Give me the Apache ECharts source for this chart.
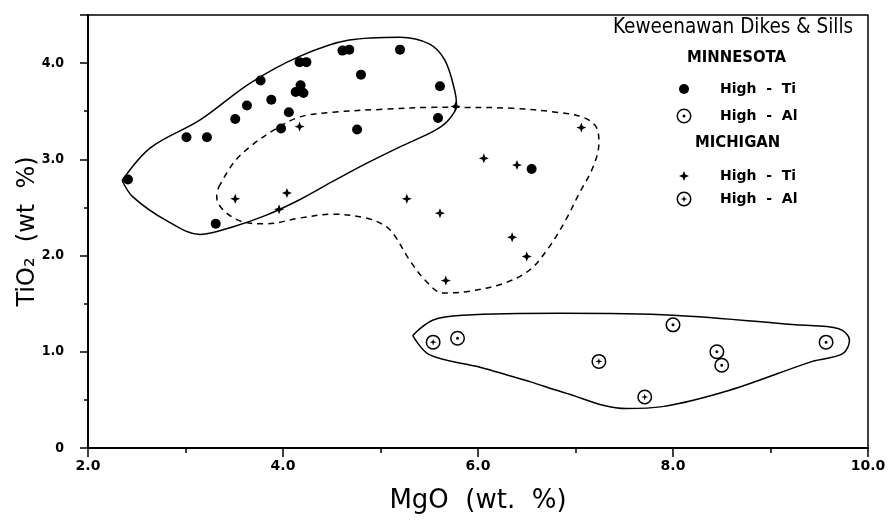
<!DOCTYPE html>
<html>
<head>
<meta charset="utf-8">
<script src="https://cdn.jsdelivr.net/npm/echarts@6/dist/echarts.min.js"></script>
<style>
  html, body { margin: 0; padding: 0; background: #fff; }
  #chart { width: 895px; height: 524px; }
</style>
</head>
<body>
<div id="chart"></div>
<script>
// ---- Data (MgO wt.%, TiO2 wt.%) ----
const mnHighTi = [
  [2.41, 2.79], [3.01, 3.23], [3.22, 3.23], [3.51, 3.42], [3.63, 3.56],
  [3.77, 3.82], [3.88, 3.62], [4.06, 3.49], [3.98, 3.32], [3.31, 2.33],
  [4.18, 3.77], [4.13, 3.70], [4.21, 3.69], [4.17, 4.01], [4.24, 4.01],
  [4.61, 4.13], [4.68, 4.14], [4.80, 3.88], [4.76, 3.31], [5.20, 4.14],
  [5.61, 3.76], [5.59, 3.43], [6.55, 2.90]
];
const mnHighAl = [
  [5.79, 1.14], [8.00, 1.28], [8.45, 1.00], [8.50, 0.86], [9.57, 1.10]
];
const miHighTi = [
  [4.17, 3.34], [3.51, 2.59], [4.04, 2.65], [3.96, 2.48], [6.06, 3.01],
  [5.27, 2.59], [5.61, 2.44], [5.77, 3.55], [7.06, 3.33], [6.40, 2.94],
  [6.35, 2.19], [6.50, 1.99], [5.67, 1.74]
];
const miHighAl = [
  [5.54, 1.10], [7.24, 0.90], [7.71, 0.53]
];

// Field outlines (data units)
const outlineMnHighTi = [
  [2.35, 2.78], [2.64, 3.12], [3.15, 3.41], [3.66, 3.79], [4.17, 4.07],
  [4.68, 4.24], [5.20, 4.27], [5.50, 4.20], [5.66, 4.03], [5.76, 3.72],
  [5.78, 3.56], [5.68, 3.39], [5.54, 3.29], [5.20, 3.13], [4.86, 2.96],
  [4.51, 2.77], [4.17, 2.58], [3.83, 2.42], [3.49, 2.30], [3.15, 2.22],
  [2.81, 2.36], [2.46, 2.61], [2.35, 2.78]
];
const outlineMiHighTi = [
  [3.34, 2.71], [3.49, 2.96], [3.66, 3.13], [3.90, 3.30], [4.17, 3.44],
  [4.51, 3.49], [5.03, 3.52], [5.54, 3.54], [5.78, 3.54], [6.36, 3.53],
  [6.80, 3.49], [7.07, 3.44], [7.21, 3.34], [7.24, 3.17], [7.18, 2.92],
  [7.04, 2.65], [6.90, 2.37], [6.73, 2.09], [6.53, 1.85], [6.26, 1.71],
  [5.91, 1.63], [5.64, 1.61], [5.47, 1.73], [5.30, 1.95], [5.13, 2.23],
  [5.03, 2.32], [4.85, 2.39], [4.51, 2.43], [4.17, 2.39], [3.83, 2.33],
  [3.59, 2.35], [3.39, 2.47], [3.32, 2.61], [3.34, 2.71]
];
const outlineHighAl = [
  [5.33, 1.17], [5.54, 1.33], [5.85, 1.38], [6.84, 1.40], [8.00, 1.38],
  [9.26, 1.28], [9.70, 1.24], [9.81, 1.12], [9.74, 0.98], [9.43, 0.90],
  [8.58, 0.60], [7.89, 0.43], [7.52, 0.41], [6.87, 0.58], [6.53, 0.69],
  [6.02, 0.84], [5.50, 0.97], [5.33, 1.17]
];

const xTicks = [2, 4, 6, 8, 10];
const yTicks = [0, 1, 2, 3, 4];

// ---- Symbols ----
const ringDot = 'path://M0,15 A15,15 0 1,1 30,15 A15,15 0 1,1 0,15 Z M3,15 A12,12 0 1,0 27,15 A12,12 0 1,0 3,15 Z M12,15 A3,3 0 1,1 18,15 A3,3 0 1,1 12,15 Z';
const ringStar = 'path://M0,15 A15,15 0 1,1 30,15 A15,15 0 1,1 0,15 Z M3,15 A12,12 0 1,0 27,15 A12,12 0 1,0 3,15 Z M15,8 L16.6,13.4 L22,15 L16.6,16.6 L15,22 L13.4,16.6 L8,15 L13.4,13.4 Z';
const star = 'path://M5,0 L6.4,3.6 L10,5 L6.4,6.4 L5,10 L3.6,6.4 L0,5 L3.6,3.6 Z';

const chart = echarts.init(document.getElementById('chart'));

// legend item: symbol centred at x=684, text starting at x=720
function mkLegend(name, cy, size) {
  return {
    data: [name], left: 684 - size / 2, top: cy - size / 2, padding: 0,
    itemWidth: size, itemHeight: size, selectedMode: false,
    formatter: n => n.indexOf('Ti') >= 0 ? 'High  -  Ti' : 'High  -  Al',
    textStyle: {
      fontFamily: 'DejaVu Sans', fontWeight: 'bold', fontSize: 14, color: '#000',
      padding: [0, 0, 0, 720 - (684 + size / 2) - 5]
    }
  };
}

const option = {
  backgroundColor: '#fff',
  animation: false,
  grid: {
    left: 88, right: 27, top: 15, bottom: 76,
    show: true, borderColor: '#000', borderWidth: 1.5
  },
  legend: [
    mkLegend('Minnesota High - Ti', 87, 10),
    mkLegend('Minnesota High - Al', 116, 15),
    mkLegend('Michigan High - Ti', 174, 10),
    mkLegend('Michigan High - Al', 199, 15)
  ],
  graphic: [
    { type: 'text', left: 613, top: 17,
      style: { text: 'Keweenawan Dikes & Sills', fontFamily: 'DejaVu Sans Condensed', fontSize: 20.5, fill: '#000' } },
    { type: 'text', left: 687, top: 49,
      style: { text: 'MINNESOTA', fontFamily: 'DejaVu Sans Condensed', fontWeight: 'bold', fontSize: 16.5, fill: '#000' } },
    { type: 'text', left: 695, top: 134,
      style: { text: 'MICHIGAN', fontFamily: 'DejaVu Sans Condensed', fontWeight: 'bold', fontSize: 16.5, fill: '#000' } }
  ],
  xAxis: {
    type: 'value', min: 2, max: 10, interval: 2,
    name: 'MgO  (wt.  %)', nameLocation: 'middle', nameGap: 40,
    nameTextStyle: { fontFamily: 'DejaVu Sans', fontSize: 26, color: '#000' },
    axisLine: { lineStyle: { color: '#000', width: 2 } },
    axisTick: { show: true, inside: false, length: 9, lineStyle: { color: '#000', width: 1.5 } },
    minorTick: { show: true, splitNumber: 2, length: 5, lineStyle: { color: '#000', width: 1.5 } },
    axisLabel: {
      margin: 11, fontFamily: 'DejaVu Sans', fontWeight: 'bold', fontSize: 14, color: '#000',
      formatter: v => xTicks.indexOf(v) >= 0 ? v.toFixed(1) : ''
    },
    splitLine: { show: false }
  },
  yAxis: {
    type: 'value', min: 0, max: 4.5, interval: 1,
    name: 'TiO₂  (wt  %)', nameLocation: 'middle', nameGap: 48, nameMoveOverlap: false,
    nameTextStyle: { fontFamily: 'DejaVu Sans', fontSize: 24, color: '#000' },
    axisLine: { lineStyle: { color: '#000', width: 2 } },
    axisTick: { show: true, inside: false, length: 8, lineStyle: { color: '#000', width: 1.5 } },
    minorTick: { show: true, splitNumber: 2, length: 4, lineStyle: { color: '#000', width: 1.5 } },
    axisLabel: {
      margin: 24, fontFamily: 'DejaVu Sans Condensed', fontWeight: 'bold', fontSize: 14, color: '#000',
      formatter: v => yTicks.indexOf(v) >= 0 ? (v === 0 ? '0' : v.toFixed(1)) : ''
    },
    splitLine: { show: false }
  },
  series: [
    { type: 'line', name: 'outline1', data: outlineMnHighTi, smooth: 0.35, symbol: 'none', silent: true,
      lineStyle: { color: '#000', width: 1.5 }, z: 1 },
    { type: 'line', name: 'outline2', data: outlineMiHighTi, smooth: 0.35, symbol: 'none', silent: true,
      lineStyle: { color: '#000', width: 1.5, type: [6, 5] }, z: 1 },
    { type: 'line', name: 'outline3', data: outlineHighAl, smooth: 0.35, symbol: 'none', silent: true,
      lineStyle: { color: '#000', width: 1.5 }, z: 1 },
    { type: 'scatter', name: 'Minnesota High - Ti', data: mnHighTi, symbol: 'circle', symbolSize: 10,
      itemStyle: { color: '#000', opacity: 1 }, z: 3 },
    { type: 'scatter', name: 'Minnesota High - Al', data: mnHighAl, symbol: ringDot, symbolSize: 15,
      itemStyle: { color: '#000', opacity: 1 }, z: 3 },
    { type: 'scatter', name: 'Michigan High - Ti', data: miHighTi, symbol: star, symbolSize: 10,
      itemStyle: { color: '#000', opacity: 1 }, z: 3 },
    { type: 'scatter', name: 'Michigan High - Al', data: miHighAl, symbol: ringStar, symbolSize: 15,
      itemStyle: { color: '#000', opacity: 1 }, z: 3 }
  ]
};
chart.setOption(option);
</script>
</body>
</html>
